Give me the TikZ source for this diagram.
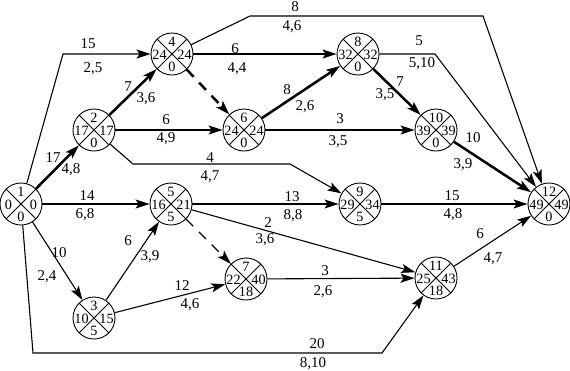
\documentclass[tikz,border=0pt]{standalone}
\usepackage{fontspec}
\setmainfont{Liberation Serif}
\usetikzlibrary{arrows.meta}
\newcommand\evnode[7]{%
  \node[ev] (#1) at (#2,#3) {};
  \node[num] (#1t) at (#2,#3-12) {#4};
  \node[num] (#1l) at (#2-12.5,#3+0.5) {#5};
  \node[num] (#1r) at (#2+12.5,#3+0.5) {#6};
  \node[num] (#1b) at (#2,#3+12.5) {#7};
}
\begin{document}
\begin{tikzpicture}[x=1pt,y=-1pt,
  ev/.style={circle,draw,line width=0.9pt,minimum size=42pt,inner sep=0pt,
    path picture={\draw[line width=0.8pt] (path picture bounding box.north west)--(path picture bounding box.south east)
      (path picture bounding box.north east)--(path picture bounding box.south west);}},
  num/.style={inner sep=0pt,text height=9.5pt,text depth=0pt,font=\rmfamily\fontsize{14.2}{17}\selectfont},
  lbl/.style={inner sep=0pt,text height=10pt,text depth=0pt,font=\rmfamily\fontsize{15}{18}\selectfont},
  arr/.style={line width=1.1pt,-{Stealth[length=14pt,width=9pt,inset=3pt]}},
  crit/.style={arr,line width=2.5pt},
  dsh/.style={dash pattern=on 10pt off 8pt}]
\useasboundingbox (0,0) rectangle (570,370);

\evnode{n1}{21}{204}{1}{0}{0}{0}
\evnode{n2}{94}{130}{2}{17}{17}{0}
\evnode{n3}{94}{318}{3}{10}{15}{5}
\evnode{n4}{172}{54}{4}{24}{24}{0}
\evnode{n5}{171}{204}{5}{16}{21}{5}
\evnode{n6}{244}{130}{6}{24}{24}{0}
\evnode{n7}{246}{279}{7}{22}{40}{18}
\evnode{n8}{358}{54}{8}{32}{32}{0}
\evnode{n9}{360}{204}{9}{29}{34}{5}
\evnode{n10}{436}{130}{10}{39}{39}{0}
\evnode{n11}{436}{278}{11}{25}{43}{18}
\evnode{n12}{549}{204}{12}{49}{49}{0}

\coordinate (b14) at (63,54);
\coordinate (b111a) at (33,353);
\coordinate (b111b) at (382,353);
\coordinate (b29a) at (133,164);
\coordinate (b29b) at (290,164);
\coordinate (b412a) at (250,16);
\coordinate (b412b) at (483,16);
\coordinate (b812) at (435,54);

\draw[crit] (n1) -- (n2);
\draw[arr] (n1) -- (b14) -- (n4);
\draw[arr] (n1) -- (n5);
\draw[arr] (n1) -- (n3);
\draw[arr] (n1) -- (b111a) -- (b111b) -- (n11);
\draw[crit] (n2) -- (n4);
\draw[arr] (n2) -- (n6);
\draw[arr] (n2) -- (b29a) -- (b29b) -- (n9);
\draw[arr] (n3) -- (n5);
\draw[arr] (n3) -- (n7);
\draw[arr] (n4) -- (b412a) -- (b412b) -- (n12);
\draw[arr] (n4) -- (n8);
\draw[crit,dsh] (n4) -- (n6);
\draw[arr,dsh] (n5) -- (n7);
\draw[arr] (n5) -- (n9);
\draw[arr] (n5) -- (n11);
\draw[crit] (n6) -- (n8);
\draw[arr] (n6) -- (n10);
\draw[arr] (n7) -- (n11);
\draw[arr] (n8) -- (b812) -- (n12);
\draw[crit] (n8) -- (n10);
\draw[arr] (n9) -- (n12);
\draw[crit] (n10) -- (n12);
\draw[arr] (n11) -- (n12);

\node[lbl] (la1) at (88,43) {15};   \node[lbl] (lb1) at (93,67) {2,5};
\node[lbl] (la2) at (53,157) {17};  \node[lbl] (lb2) at (71,168) {4,8};
\node[lbl] (la3) at (128,86) {7};   \node[lbl] (lb3) at (146,97) {3,6};
\node[lbl] (la4) at (166,119) {6};  \node[lbl] (lb4) at (166,137) {4,9};
\node[lbl] (la5) at (210,157) {4};  \node[lbl] (lb5) at (210,175) {4,7};
\node[lbl] (la6) at (87,195) {14};  \node[lbl] (lb6) at (85,213) {6,8};
\node[lbl] (la7) at (59,252) {10};  \node[lbl] (lb7) at (47,275) {2,4};
\node[lbl] (la8) at (317,343) {20}; \node[lbl] (lb8) at (313,362) {8,10};
\node[lbl] (la9) at (128,240) {6};  \node[lbl] (lb9) at (150,255) {3,9};
\node[lbl] (la10) at (182,285) {12}; \node[lbl] (lb10) at (190,303) {4,6};
\node[lbl] (la11) at (295,6) {8};   \node[lbl] (lb11) at (292,25) {4,6};
\node[lbl] (la12) at (235,48) {6};  \node[lbl] (lb12) at (237,67) {4,4};
\node[lbl] (la13) at (287,89) {8};  \node[lbl] (lb13) at (305,105) {2,6};
\node[lbl] (la14) at (340,118) {3}; \node[lbl] (lb14) at (338,140) {3,5};
\node[lbl] (la15) at (419,40) {5};  \node[lbl] (lb15) at (422,62) {5,10};
\node[lbl] (la16) at (400,81) {7};  \node[lbl] (lb16) at (385,93) {3,5};
\node[lbl] (la17) at (473,137) {10}; \node[lbl] (lb17) at (463,163) {3,9};
\node[lbl] (la18) at (452,195) {15}; \node[lbl] (lb18) at (453,213) {4,8};
\node[lbl] (la19) at (292,196) {13}; \node[lbl] (lb19) at (293,214) {8,8};
\node[lbl] (la20) at (268,222) {2};  \node[lbl] (lb20) at (265,238) {3,6};
\node[lbl] (la21) at (325,270) {3};  \node[lbl] (lb21) at (323,290) {2,6};
\node[lbl] (la22) at (480,233) {6};  \node[lbl] (lb22) at (493,257) {4,7};
\end{tikzpicture}
\end{document}
